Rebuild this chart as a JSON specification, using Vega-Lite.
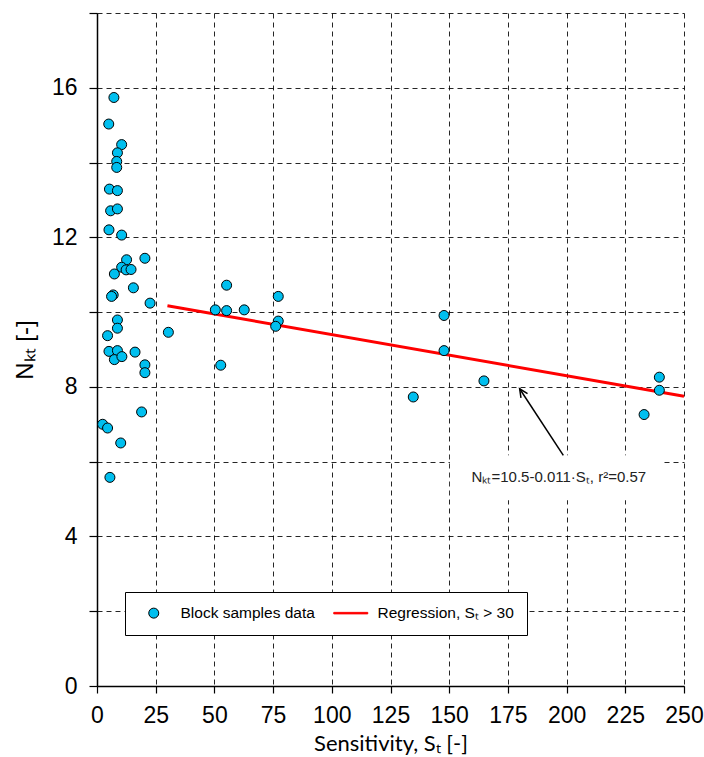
{
  "$schema": "https://vega.github.io/schema/vega-lite/v6.json",
  "width": 587,
  "height": 673,
  "autosize": {"type": "none"},
  "padding": {"left": 97, "top": 13, "right": 20, "bottom": 71},
  "background": "white",
  "config": {
    "view": {"stroke": null},
    "font": "Liberation Sans",
    "legend": {
      "orient": "none", "legendX": 28, "legendY": 579, "direction": "horizontal",
      "strokeColor": "#000", "fillColor": "#fff", "padding": 13,
      "symbolStrokeWidth": 1, "symbolOffset": 8, "labelOffset": 19, "columnPadding": 16,
      "labelFont": "Liberation Sans", "labelFontSize": 15.5, "labelColor": "#000", "labelLimit": 300,
      "symbolOpacity": 1
    }
  },
  "datasets": {
    "pts": [
      {"S": 7.2, "N": 15.74, "series": "Block samples data"},
      {"S": 5.0, "N": 15.03, "series": "Block samples data"},
      {"S": 10.5, "N": 14.48, "series": "Block samples data"},
      {"S": 8.7, "N": 14.26, "series": "Block samples data"},
      {"S": 8.4, "N": 14.03, "series": "Block samples data"},
      {"S": 8.4, "N": 13.87, "series": "Block samples data"},
      {"S": 5.3, "N": 13.29, "series": "Block samples data"},
      {"S": 8.7, "N": 13.25, "series": "Block samples data"},
      {"S": 5.8, "N": 12.71, "series": "Block samples data"},
      {"S": 8.7, "N": 12.76, "series": "Block samples data"},
      {"S": 5.1, "N": 12.2, "series": "Block samples data"},
      {"S": 10.5, "N": 12.06, "series": "Block samples data"},
      {"S": 12.6, "N": 11.4, "series": "Block samples data"},
      {"S": 20.4, "N": 11.44, "series": "Block samples data"},
      {"S": 10.5, "N": 11.2, "series": "Block samples data"},
      {"S": 12.4, "N": 11.13, "series": "Block samples data"},
      {"S": 14.5, "N": 11.14, "series": "Block samples data"},
      {"S": 7.4, "N": 11.02, "series": "Block samples data"},
      {"S": 15.5, "N": 10.65, "series": "Block samples data"},
      {"S": 6.9, "N": 10.46, "series": "Block samples data"},
      {"S": 6.2, "N": 10.42, "series": "Block samples data"},
      {"S": 22.6, "N": 10.24, "series": "Block samples data"},
      {"S": 8.7, "N": 9.79, "series": "Block samples data"},
      {"S": 8.7, "N": 9.57, "series": "Block samples data"},
      {"S": 4.5, "N": 9.37, "series": "Block samples data"},
      {"S": 30.4, "N": 9.46, "series": "Block samples data"},
      {"S": 5.1, "N": 8.95, "series": "Block samples data"},
      {"S": 8.7, "N": 8.97, "series": "Block samples data"},
      {"S": 7.4, "N": 8.73, "series": "Block samples data"},
      {"S": 10.6, "N": 8.81, "series": "Block samples data"},
      {"S": 16.2, "N": 8.93, "series": "Block samples data"},
      {"S": 20.4, "N": 8.59, "series": "Block samples data"},
      {"S": 20.4, "N": 8.38, "series": "Block samples data"},
      {"S": 19.0, "N": 7.33, "series": "Block samples data"},
      {"S": 2.4, "N": 7.0, "series": "Block samples data"},
      {"S": 4.5, "N": 6.9, "series": "Block samples data"},
      {"S": 10.1, "N": 6.5, "series": "Block samples data"},
      {"S": 5.5, "N": 5.58, "series": "Block samples data"},
      {"S": 55.2, "N": 10.72, "series": "Block samples data"},
      {"S": 50.4, "N": 10.06, "series": "Block samples data"},
      {"S": 55.2, "N": 10.04, "series": "Block samples data"},
      {"S": 62.7, "N": 10.06, "series": "Block samples data"},
      {"S": 52.7, "N": 8.58, "series": "Block samples data"},
      {"S": 77.2, "N": 10.42, "series": "Block samples data"},
      {"S": 77.2, "N": 9.76, "series": "Block samples data"},
      {"S": 76.1, "N": 9.62, "series": "Block samples data"},
      {"S": 147.8, "N": 9.91, "series": "Block samples data"},
      {"S": 147.8, "N": 8.97, "series": "Block samples data"},
      {"S": 164.8, "N": 8.16, "series": "Block samples data"},
      {"S": 134.7, "N": 7.73, "series": "Block samples data"},
      {"S": 239.5, "N": 8.26, "series": "Block samples data"},
      {"S": 239.5, "N": 7.91, "series": "Block samples data"},
      {"S": 233.0, "N": 7.26, "series": "Block samples data"}
    ],
    "reg": [
      {"S": 30, "N": 10.17},
      {"S": 250, "N": 7.75}
    ],
    "box": [{"S": 150.3, "S2": 240.6, "N": 4.97, "N2": 6.17}],
    "arrow": [{"S": 198.6, "N": 6.17, "S2": 180.0, "N2": 7.95}],
    "tip": [{"S": 180.0, "N": 7.95}],
    "label": [{"S": 196.7, "N": 5.59, "text": "Nₖₜ=10.5-0.011·Sₜ, r²=0.57"}]
  },
  "layer": [
    {
      "data": {"name": "box"},
      "mark": {"type": "rect", "fill": "white", "stroke": null},
      "encoding": {
        "x": {"field": "S", "type": "quantitative", "title": "Sensitivity, Sₜ [-]"},
        "x2": {"field": "S2"},
        "y": {"field": "N", "type": "quantitative", "title": "Nₖₜ [-]"},
        "y2": {"field": "N2"}
      }
    },
    {
      "data": {"name": "reg"},
      "mark": {"type": "line", "strokeWidth": 3, "color": "#FF0000"},
      "encoding": {
        "x": {"field": "S", "type": "quantitative", "title": "Sensitivity, Sₜ [-]"},
        "y": {"field": "N", "type": "quantitative", "title": "Nₖₜ [-]"}
      }
    },
    {
      "data": {"name": "pts"},
      "mark": {"type": "point", "filled": true, "strokeWidth": 1, "size": 100, "opacity": 1},
      "encoding": {
        "x": {
          "field": "S", "type": "quantitative", "title": "Sensitivity, Sₜ [-]",
          "scale": {"domain": [0, 250], "nice": false, "zero": false},
          "axis": {
            "values": [0, 25, 50, 75, 100, 125, 150, 175, 200, 225, 250],
            "grid": true, "gridColor": "#000", "gridDash": [5, 4], "gridWidth": 1, "gridOpacity": 0.85,
            "domainColor": "#000", "domainWidth": 1.5,
            "tickColor": "#000", "tickSize": 7, "tickWidth": 1.2,
            "labelFont": "Liberation Sans", "labelFontSize": 23, "labelColor": "#000", "labelPadding": 11,
            "labelFlush": false, "labelOverlap": false,
            "titleFont": "Lato", "titleFontSize": 22, "titleFontWeight": "normal", "titleColor": "#000",
            "titleX": 293.5, "titleY": 64, "titleBaseline": "alphabetic", "titleAlign": "center"
          }
        },
        "y": {
          "field": "N", "type": "quantitative", "title": "Nₖₜ [-]",
          "scale": {"domain": [0, 18], "nice": false, "zero": false},
          "axis": {
            "values": [0, 2, 4, 6, 8, 10, 12, 14, 16, 18],
            "labelExpr": "datum.value % 4 === 0 && datum.value < 18 ? datum.label : ''",
            "grid": true, "gridColor": "#000", "gridDash": [5, 4], "gridWidth": 1, "gridOpacity": 0.85,
            "domainColor": "#000", "domainWidth": 1.5,
            "tickColor": "#000", "tickSize": 8, "tickWidth": 1.2,
            "labelFont": "Liberation Sans", "labelFontSize": 23, "labelColor": "#000", "labelPadding": 12,
            "labelFlush": false, "labelOverlap": false,
            "titleFont": "Liberation Sans", "titleFontSize": 24, "titleFontWeight": "normal", "titleColor": "#000",
            "titleX": -72, "titleY": 336.5, "titleAngle": -90, "titleBaseline": "middle", "titleAlign": "center"
          }
        },
        "color": {
          "field": "series", "type": "nominal",
          "scale": {"domain": ["Block samples data", "Regression, Sₜ > 30"], "range": ["#00BFEF", "#FF0000"]},
          "legend": {"title": null}
        },
        "stroke": {
          "field": "series", "type": "nominal",
          "scale": {"domain": ["Block samples data", "Regression, Sₜ > 30"], "range": ["#000000", "#FF0000"]},
          "legend": {"title": null}
        },
        "shape": {
          "field": "series", "type": "nominal",
          "scale": {"domain": ["Block samples data", "Regression, Sₜ > 30"], "range": ["circle", "M -3.4 -0.15 L 3.4 -0.15 L 3.4 0.15 L -3.4 0.15 Z"]},
          "legend": {"title": null}
        }
      }
    },
    {
      "data": {"name": "arrow"},
      "mark": {"type": "rule", "color": "#000", "strokeWidth": 1.5},
      "encoding": {
        "x": {"field": "S", "type": "quantitative", "title": "Sensitivity, Sₜ [-]"},
        "y": {"field": "N", "type": "quantitative", "title": "Nₖₜ [-]"},
        "x2": {"field": "S2"},
        "y2": {"field": "N2"}
      }
    },
    {
      "data": {"name": "tip"},
      "mark": {"type": "point", "shape": "M -0.75 1.6 L 0 0 L 0.75 1.6", "filled": false, "stroke": "#000", "strokeWidth": 1.5, "size": 110, "angle": 326.6, "opacity": 1},
      "encoding": {
        "x": {"field": "S", "type": "quantitative", "title": "Sensitivity, Sₜ [-]"},
        "y": {"field": "N", "type": "quantitative", "title": "Nₖₜ [-]"}
      }
    },
    {
      "data": {"name": "label"},
      "mark": {"type": "text", "font": "Liberation Sans", "fontSize": 15, "color": "#222", "align": "center", "baseline": "middle"},
      "encoding": {
        "x": {"field": "S", "type": "quantitative", "title": "Sensitivity, Sₜ [-]"},
        "y": {"field": "N", "type": "quantitative", "title": "Nₖₜ [-]"},
        "text": {"field": "text"}
      }
    }
  ]
}
